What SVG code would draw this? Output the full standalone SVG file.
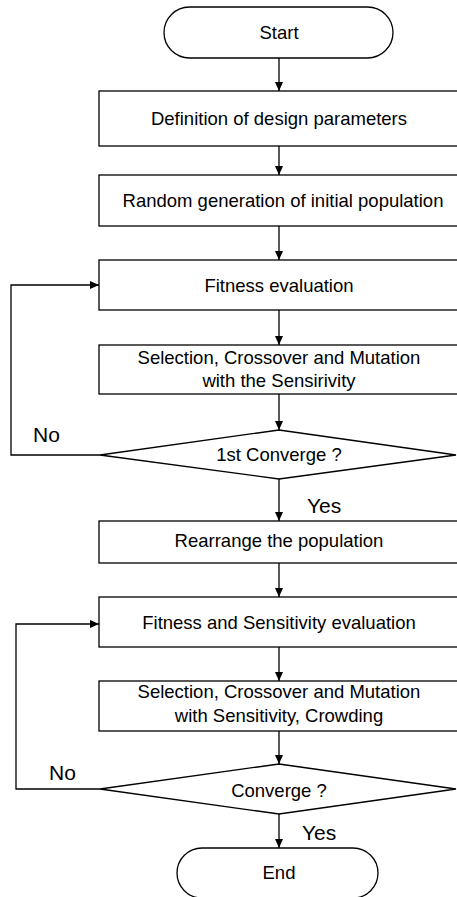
<svg xmlns="http://www.w3.org/2000/svg" width="457" height="897" viewBox="0 0 457 897">
<defs>
<marker id="ah" markerWidth="10" markerHeight="10" refX="9" refY="4" orient="auto" markerUnits="userSpaceOnUse">
<path d="M0,0 L9,4 L0,8 Z" fill="#000"/>
</marker>
<style>
.s{fill:#fff;stroke:#000;stroke-width:1.3}
.c{fill:none;stroke:#000;stroke-width:1.3;marker-end:url(#ah)}
.t{font-family:"Liberation Sans",Arial,sans-serif;font-size:18.5px;fill:#000;text-anchor:middle}
.l{font-family:"Liberation Sans",Arial,sans-serif;font-size:21px;fill:#000}
</style>
</defs>
<rect width="457" height="897" fill="#fff"/>
<g id="connectors">
<path class="c" d="M279,58 V91"/>
<path class="c" d="M279,146 V175"/>
<path class="c" d="M279,226 V260"/>
<path class="c" d="M279,310 V345"/>
<path class="c" d="M279,394 V430"/>
<path class="c" d="M100,455 H11 V285 H99"/>
<path class="c" d="M279,479 V521"/>
<path class="c" d="M279,563 V597"/>
<path class="c" d="M279,647 V681"/>
<path class="c" d="M279,731 V764"/>
<path class="c" d="M100,789 H16 V624 H99"/>
<path class="c" d="M279,814 V848"/>
<text class="l" x="33" y="442">No</text>
<text class="l" x="307" y="513">Yes</text>
<text class="l" x="49" y="780">No</text>
<text class="l" x="302" y="840">Yes</text>
</g>
<g id="start">
<rect class="s" x="164" y="7" width="229" height="51" rx="25.5"/>
<text class="t" x="279" y="39">Start</text>
</g>
<g id="define">
<rect class="s" x="99" y="91" width="360" height="55"/>
<text class="t" x="279" y="125">Definition of design parameters</text>
</g>
<g id="random">
<rect class="s" x="99" y="175" width="360" height="51"/>
<text class="t" x="283" y="207">Random generation of initial population</text>
</g>
<g id="fitness">
<rect class="s" x="99" y="260" width="360" height="50"/>
<text class="t" x="279" y="292">Fitness evaluation</text>
</g>
<g id="selection1">
<rect class="s" x="99" y="345" width="360" height="49"/>
<text class="t" x="279" y="364">Selection, Crossover and Mutation</text>
<text class="t" x="279" y="387">with the Sensirivity</text>
</g>
<g id="converge1">
<path class="s" d="M279,430 L456,455 L279,479 L100,455 Z"/>
<text class="t" x="279" y="461">1st Converge ?</text>
</g>
<g id="rearrange">
<rect class="s" x="99" y="521" width="360" height="42"/>
<text class="t" x="279" y="547">Rearrange the population</text>
</g>
<g id="fitsens">
<rect class="s" x="99" y="597" width="360" height="50"/>
<text class="t" x="279" y="629">Fitness and Sensitivity evaluation</text>
</g>
<g id="selection2">
<rect class="s" x="99" y="681" width="360" height="50"/>
<text class="t" x="279" y="698">Selection, Crossover and Mutation</text>
<text class="t" x="279" y="722">with Sensitivity, Crowding</text>
</g>
<g id="converge2">
<path class="s" d="M279,764 L456,789 L279,814 L100,789 Z"/>
<text class="t" x="279" y="797">Converge ?</text>
</g>
<g id="end">
<rect class="s" x="177" y="848" width="201" height="50" rx="25"/>
<text class="t" x="279" y="879">End</text>
</g>
</svg>
